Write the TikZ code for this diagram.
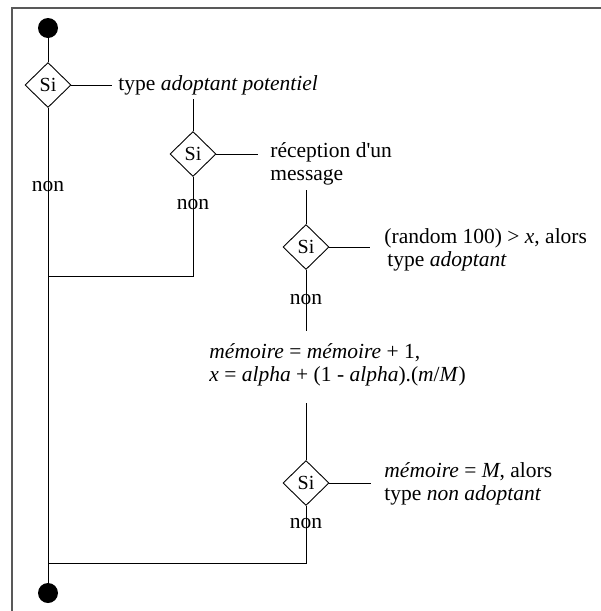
\documentclass[tikz,border=0pt]{standalone}
\usepackage{fontspec}
\setmainfont{Liberation Serif}
\usetikzlibrary{shapes.geometric, positioning}

\begin{document}
\begin{tikzpicture}[x=1pt, y=-1pt, line width=0.9pt,
    test/.style={diamond, draw, inner sep=0pt, minimum width=46pt, minimum height=45pt, font=\fontsize{20}{22}\selectfont},
    dot/.style={circle, fill, inner sep=0pt, minimum size=20pt},
    txt/.style={anchor=base west, align=left, inner sep=0pt, font=\fontsize{21.5}{23}\selectfont}]
    \useasboundingbox (0,0) rectangle (601,611);
    % Frame
    \draw[black!65, line width=1.6pt] (12,611) -- (12,8) -- (601,8);

    % Nodes
    \node[dot] (start) at (48,28) {};
    \node[test] (si1) at (48,85) {Si};
    \node[test] (si2) at (193,154) {Si};
    \node[test] (si3) at (306,247) {Si};
    \node[test] (si4) at (306,483) {Si};
    \node[dot] (end) at (48,593) {};

    % Texts (base = last line)
    \node[txt] (adopot) at (118,90) {type \textit{adoptant potentiel}};
    \node[txt] (recep) at (270,180) {réception d\textquotesingle un\\message};
    \node[txt] (adopt) at (384,266) {(random 100) > \textit{x}, alors\\\hspace{3pt}type \textit{adoptant}};
    \node[txt] (memo) at (209,381) {\textit{mémoire} = \textit{mémoire} + 1,\\\textit{x} = \textit{alpha} + (1 - \textit{alpha}).(\textit{m}/\textit{M})};
    \node[txt] (nonadopt) at (384,500) {\textit{mémoire} = \textit{M}, alors\\type \textit{non adoptant}};
    \node[txt, anchor=center] (non1) at (48,187) {non};
    \node[txt, anchor=center] (non2) at (193,205) {non};
    \node[txt, anchor=center] (non3) at (306,300) {non};
    \node[txt, anchor=center] (non4) at (306,524) {non};

    % Free ends
    \coordinate (e1) at (112,85);
    \coordinate (e2) at (258,154);
    \coordinate (e3) at (370,247);
    \coordinate (e4) at (371,483);
    \coordinate (top2) at (193,99);
    \coordinate (top3) at (306,190);
    \coordinate (bot3) at (306,331);
    \coordinate (top4) at (306,403);
    \coordinate (join1) at (48,276);
    \coordinate (join2) at (48,563);

    % Connections
    \draw (start) -- (si1);
    \draw (si1.south) -- (end);
    \draw (si1.east) -- (e1);
    \draw (top2) -- (si2.north);
    \draw (si2.east) -- (e2);
    \draw (si2.south) |- (join1);
    \draw (top3) -- (si3.north);
    \draw (si3.east) -- (e3);
    \draw (si3.south) -- (bot3);
    \draw (top4) -- (si4.north);
    \draw (si4.east) -- (e4);
    \draw (si4.south) |- (join2);
\end{tikzpicture}
\end{document}
